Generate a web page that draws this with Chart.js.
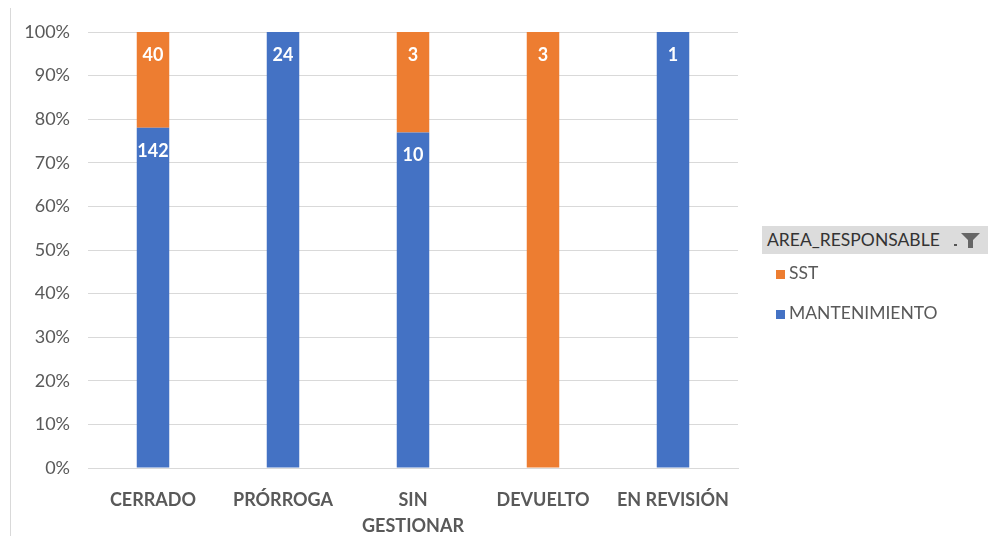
<!DOCTYPE html>
<html>
<head>
<meta charset="utf-8">
<script src="https://cdn.jsdelivr.net/npm/chart.js@4.4.0/dist/chart.umd.min.js"></script>
<style>
  body { margin: 0; background: #fff; font-family: Lato, "Open Sans", sans-serif; }
  #wrap { position: relative; width: 997px; height: 536px; }
  #edge { position: absolute; left: 10px; top: 8px; width: 0; height: 528px; border-left: 1px solid #d9d9d9; }
  #legendBox { position: absolute; left: 762px; top: 226px; width: 226px; }
  #legendHead { height: 28px; background: #dcdcdc; color: #333; font-size: 17.5px; line-height: 28px; padding-left: 5px; position: relative; }
  #legendHead svg { position: absolute; right: 6px; top: 6px; }
  .item { height: 40px; line-height: 38px; font-size: 17.5px; color: #595959; padding-left: 14px; }
  .sw { display: inline-block; width: 9px; height: 9px; margin-right: 4px; }
</style>
</head>
<body>
<div id="wrap">
  <canvas id="chart" width="997" height="536"></canvas>
  <div id="edge"></div>
  <div id="legendBox">
    <div id="legendHead">AREA_RESPONSABLE
      <svg width="30" height="17" viewBox="0 0 30 17">
        <rect x="2" y="12" width="3" height="2" fill="#555"/>
        <polygon points="9,1 28,1 21,8 21,16 16,16 16,8" fill="#666"/>
      </svg>
    </div>
    <div id="legendItems"></div>
  </div>
</div>
<script>
const categories = ['CERRADO', 'PRÓRROGA', ['SIN', 'GESTIONAR'], 'DEVUELTO', 'EN REVISIÓN'];
const mantenimiento = [142, 24, 10, 0, 1];
const sst = [40, 0, 3, 3, 0];
const yTicks = [0, 10, 20, 30, 40, 50, 60, 70, 80, 90, 100];

const totals = mantenimiento.map((v, i) => v + sst[i]);
const pct = arr => arr.map((v, i) => totals[i] ? v / totals[i] * 100 : 0);

const series = [
  { label: 'MANTENIMIENTO', counts: mantenimiento, color: '#4472C4' },
  { label: 'SST', counts: sst, color: '#ED7D31' }
];

// legend in the pivot style, SST listed first
const legendItems = document.getElementById('legendItems');
series.slice().reverse().forEach(s => {
  const div = document.createElement('div');
  div.className = 'item';
  div.innerHTML = '<span class="sw" style="background:' + s.color + '"></span>' + s.label;
  legendItems.appendChild(div);
});

//write the counts near the top of each segment
const countLabels = {
  id: 'countLabels',
  afterDatasetsDraw(chart) {
    const ctx = chart.ctx;
    ctx.save();
    ctx.fillStyle = '#fff';
    ctx.font = 'bold 18px Lato, sans-serif';
    ctx.textAlign = 'center';
    ctx.textBaseline = 'middle';
    chart.data.datasets.forEach((ds, di) => {
      chart.getDatasetMeta(di).data.forEach((bar, i) => {
        const n = ds.counts[i];
        if (!n) return;
        ctx.fillText(String(n), bar.x, bar.y + 23);
      });
    });
    ctx.restore();
  }
};

new Chart(document.getElementById('chart'), {
  type: 'bar',
  data: {
    labels: categories,
    datasets: series.map(s => ({
      label: s.label,
      counts: s.counts,
      data: pct(s.counts),
      backgroundColor: s.color,
      barPercentage: 0.5,
      categoryPercentage: 0.5
    }))
  },
  options: {
    responsive: false,
    animation: false,
    layout: { padding: { left: 10, right: 259, top: 32, bottom: 0 } },
    plugins: { legend: { display: false }, tooltip: { enabled: false } },
    scales: {
      x: {
        stacked: true,
        grid: { display: false },
        border: { color: '#d9d9d9' },
        ticks: { color: '#595959', font: { family: 'Lato, sans-serif', size: 18, weight: 'bold', lineHeight: 1.45 }, padding: 11, maxRotation: 0, autoSkip: false },
        afterFit: scale => { scale.height = 68; }
      },
      y: {
        stacked: true,
        min: 0,
        max: 100,
        afterBuildTicks: scale => { scale.ticks = yTicks.map(v => ({ value: v })); },
        grid: { color: '#d9d9d9', drawTicks: false },
        border: { display: false },
        ticks: { color: '#595959', font: { family: 'Lato, sans-serif', size: 18 }, padding: 18, callback: v => v + '%' },
        afterFit: scale => { scale.width = 78; }
      }
    }
  },
  plugins: [countLabels]
});
</script>
</body>
</html>
